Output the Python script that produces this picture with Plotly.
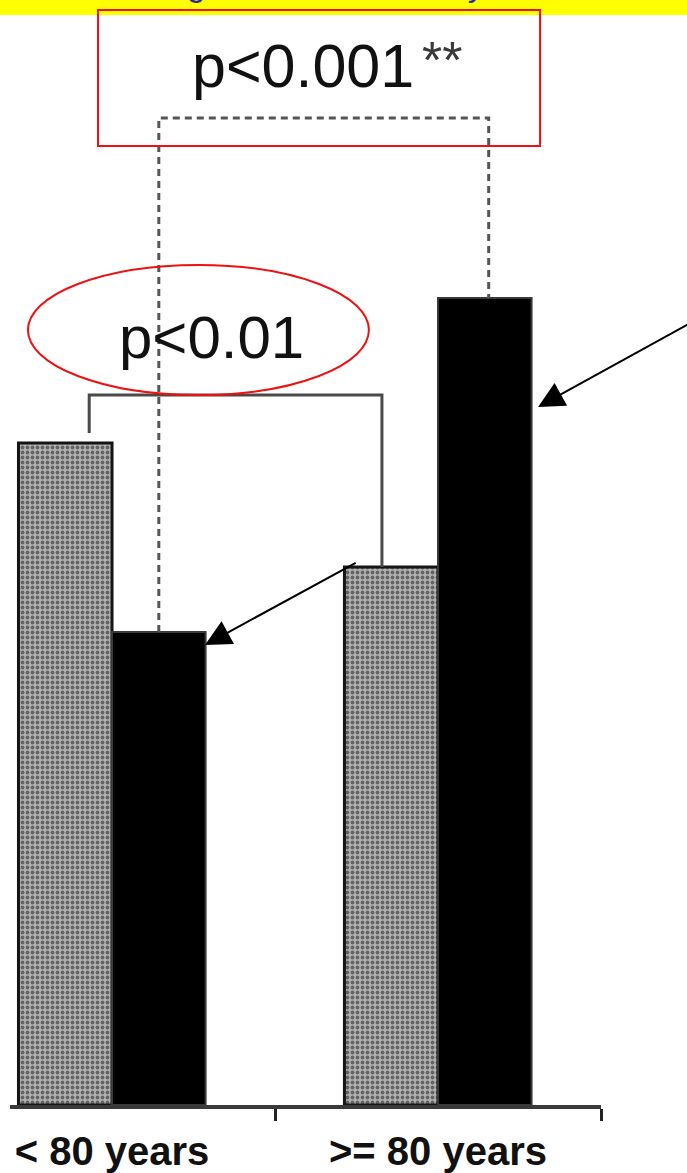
import plotly.graph_objects as go

# Data: two age groups, two series per group
age_groups = ["< 80 years", ">= 80 years"]
gray_values = [66.2, 53.8]
black_values = [47.3, 80.7]

# Significance annotations
p_groups = "p<0.01"
p_black = "p<0.001"
p_black_stars = "**"

title_text = "Bleeding rates in the elderly"

BAR_GAP = 0.426
BAR_W = (1 - BAR_GAP) / 2          # width of one bar in category units
OFF = BAR_W / 2                    # centre offset of each bar from its category

fig = go.Figure()

fig.add_bar(
    x=age_groups, y=gray_values, name="Series 1",
    marker=dict(
        color="#9a9a9a",
        line=dict(color="#151515", width=3),
        pattern=dict(shape=".", fgcolor="#161616", bgcolor="#b2b2b2",
                     size=5, solidity=0.45),
    ),
)
fig.add_bar(
    x=age_groups, y=black_values, name="Series 2",
    marker=dict(color="#000000", line=dict(color="#3a3a3a", width=2)),
)

shapes = []

# yellow header strip
shapes.append(dict(type="rect", xref="paper", yref="paper",
                   x0=-0.1, x1=1.3, y0=1 - 15 / 1105, y1=1.1,
                   fillcolor="#ffff00", line=dict(width=0), layer="below"))

# solid bracket between the two patterned bars
br_y = 71.0
br_left = -0.07
br_right = 1 - 0.172
shapes.append(dict(type="path", xref="x", yref="y",
                   path=f"M {br_left} {gray_values[0] + 1.0} L {br_left} {br_y} "
                        f"L {br_right} {br_y} L {br_right} {gray_values[1]}",
                   line=dict(color="#4a4a4a", width=3)))

# dashed bracket between the two black bars
dash_y = 98.7
dl = 0 + OFF
dr = 1 + OFF + 0.012
shapes.append(dict(type="path", xref="x", yref="y",
                   path=f"M {dl} {black_values[0]} L {dl} {dash_y} "
                        f"L {dr} {dash_y} L {dr} {black_values[1]}",
                   line=dict(color="#555555", width=3, dash="7px,5px")))

# red box around the top p-value
shapes.append(dict(type="rect", xref="x", yref="y",
                   x0=-0.043, x1=1.313, y0=95.9, y1=109.5,
                   line=dict(color="#ee1111", width=2)))

# red ellipse around the lower p-value
shapes.append(dict(type="circle", xref="x", yref="y",
                   x0=-0.258, x1=0.788, y0=71.0, y1=84.0,
                   line=dict(color="#ee1111", width=2)))

annotations = [
    dict(text=title_text, xref="paper", yref="paper",
         x=(75 - 10) / 591, y=1 - 5 / 1105, xanchor="left", yanchor="bottom",
         showarrow=False,
         font=dict(family="Liberation Sans", size=33, color="#2b2b9e")),
    dict(text=p_black.replace("<", "&lt;"), xref="x", yref="y",
         x=0.586, y=103.9, xanchor="center", yanchor="middle", showarrow=False,
         font=dict(family="Liberation Sans", size=61, color="#111111")),
    dict(text=p_black_stars, xref="x", yref="y",
         x=1.012, y=104.5, xanchor="center", yanchor="middle", showarrow=False,
         font=dict(family="Liberation Sans", size=52, color="#3a3a3a")),
    dict(text=p_groups.replace("<", "&lt;"), xref="x", yref="y",
         x=0.304, y=76.8, xanchor="center", yanchor="middle", showarrow=False,
         font=dict(family="Liberation Sans", size=60, color="#111111")),
    # arrows pointing at the black bars
    dict(text="", xref="x", yref="y", axref="x", ayref="y",
         x=BAR_W - 0.002, y=black_values[0] - 1.3, ax=0.752, ay=gray_values[1] + 0.5,
         showarrow=True, arrowhead=2, arrowsize=2.6, arrowwidth=2,
         arrowcolor="#000000", standoff=0),
    dict(text="", xref="x", yref="y", axref="x", ayref="y",
         x=1 + BAR_W + 0.02, y=69.8, ax=1.78, ay=78.3,
         showarrow=True, arrowhead=2, arrowsize=2.6, arrowwidth=2,
         arrowcolor="#000000", standoff=0),
]

fig.update_layout(
    width=687, height=1173,
    margin=dict(l=10, r=86, t=0, b=68),
    barmode="group", bargap=BAR_GAP, bargroupgap=0,
    plot_bgcolor="white", paper_bgcolor="white",
    showlegend=False,
    shapes=shapes, annotations=annotations,
)
fig.update_xaxes(
    type="category", range=[-0.313, 1.5], tickson="boundaries",
    ticks="outside", ticklen=12, tickwidth=3, tickcolor="#222222",
    showline=True, linecolor="#3a3a3a", linewidth=4,
    showgrid=False, zeroline=False, ticklabelstandoff=8,
    tickfont=dict(family="Liberation Sans", size=40, color="#111111", weight="bold"),
)
fig.update_yaxes(range=[0, 110.5], visible=False)

fig.write_html("out.html", config=dict(displayModeBar=False))
